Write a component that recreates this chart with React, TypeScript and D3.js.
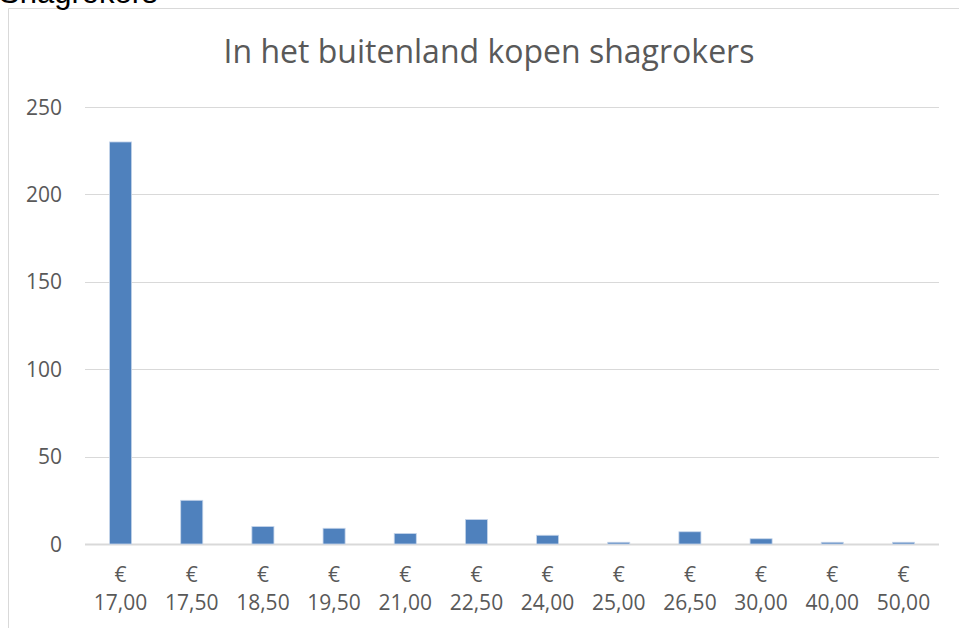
import { useEffect, useRef } from "react";
import * as d3 from "d3";

// prices (x categories) and counts
const prices = ["17,00", "17,50", "18,50", "19,50", "21,00", "22,50", "24,00", "25,00", "26,50", "30,00", "40,00", "50,00"];
const counts = [230, 25, 10, 9, 6, 14, 5, 1, 7, 3, 1, 1];
const yTicks = [0, 50, 100, 150, 200, 250];

const W = 959;
const H = 628;
const PLOT = { left: 85, right: 939, top: 107, bottom: 544 };
const FONT = "'Open Sans', 'DejaVu Sans', sans-serif";
const TXT = "#595959";

export default function App() {
  const svgRef = useRef<SVGSVGElement>(null);

  useEffect(() => {
    if (!svgRef.current) return;
    const svg = d3.select(svgRef.current);
    svg.selectAll("*").remove();

    const x = d3.scaleBand<string>()
      .domain(prices)
      .range([PLOT.left, PLOT.right])
      .paddingInner(0.69)
      .paddingOuter(0.345);
    const y = d3.scaleLinear().domain([0, 250]).range([PLOT.bottom, PLOT.top]);

    // outer chart frame (only top + left edges are visible in the crop)
    svg.append("path")
      .attr("d", `M8.5,${H} L8.5,8.5 L${W},8.5`)
      .attr("fill", "none")
      .attr("stroke", "#d9d9d9")
      .attr("stroke-width", 1);

    // cut-off heading above the chart
    svg.append("text")
      .attr("x", -1)
      .attr("y", 3)
      .attr("fill", "#000")
      .attr("font-size", 31)
      .attr("font-family", "'Liberation Sans', Arial, sans-serif")
      .text("Shagrokers");

    // title
    svg.append("text")
      .attr("x", (PLOT.left + PLOT.right) / 2 - 23)
      .attr("y", 63)
      .attr("text-anchor", "middle")
      .attr("fill", TXT)
      .attr("font-size", 32)
      .attr("font-family", FONT)
      .text("In het buitenland kopen shagrokers");

    // gridlines
    svg.append("g")
      .selectAll("line")
      .data(yTicks)
      .join("line")
      .attr("x1", PLOT.left)
      .attr("x2", PLOT.right)
      .attr("y1", d => Math.round(y(d)) + 0.5)
      .attr("y2", d => Math.round(y(d)) + 0.5)
      .attr("stroke", "#d9d9d9")
      .attr("stroke-width", d => (d === 0 ? 2 : 1));

    // y tick labels
    svg.append("g")
      .selectAll("text")
      .data(yTicks)
      .join("text")
      .attr("x", 62)
      .attr("y", d => y(d))
      .attr("dy", "0.36em")
      .attr("text-anchor", "end")
      .attr("fill", TXT)
      .attr("font-size", 21)
      .attr("font-family", FONT)
      .text(d => d);

    // bars
    svg.append("g")
      .selectAll("rect")
      .data(counts)
      .join("rect")
      .attr("x", (_, i) => x(prices[i])!)
      .attr("y", d => y(d))
      .attr("width", x.bandwidth())
      .attr("height", d => y(0) - y(d))
      .attr("fill", "#4f81bd")
      .attr("stroke", "#c6d5ea")
      .attr("stroke-width", 0.8);

    // x labels: "€" on one line, amount beneath
    const xl = svg.append("g")
      .selectAll("text")
      .data(prices)
      .join("text")
      .attr("text-anchor", "middle")
      .attr("fill", TXT)
      .attr("font-size", 21)
      .attr("font-family", FONT);
    xl.append("tspan")
      .attr("x", d => x(d)! + x.bandwidth() / 2)
      .attr("y", 582)
      .text("€");
    xl.append("tspan")
      .attr("x", d => x(d)! + x.bandwidth() / 2)
      .attr("y", 610)
      .text(d => d);
  }, []);

  return (
    <svg
      ref={svgRef}
      width={W}
      height={H}
      style={{ position: "absolute", left: 0, top: 0, background: "#fff", display: "block" }}
    />
  );
}
